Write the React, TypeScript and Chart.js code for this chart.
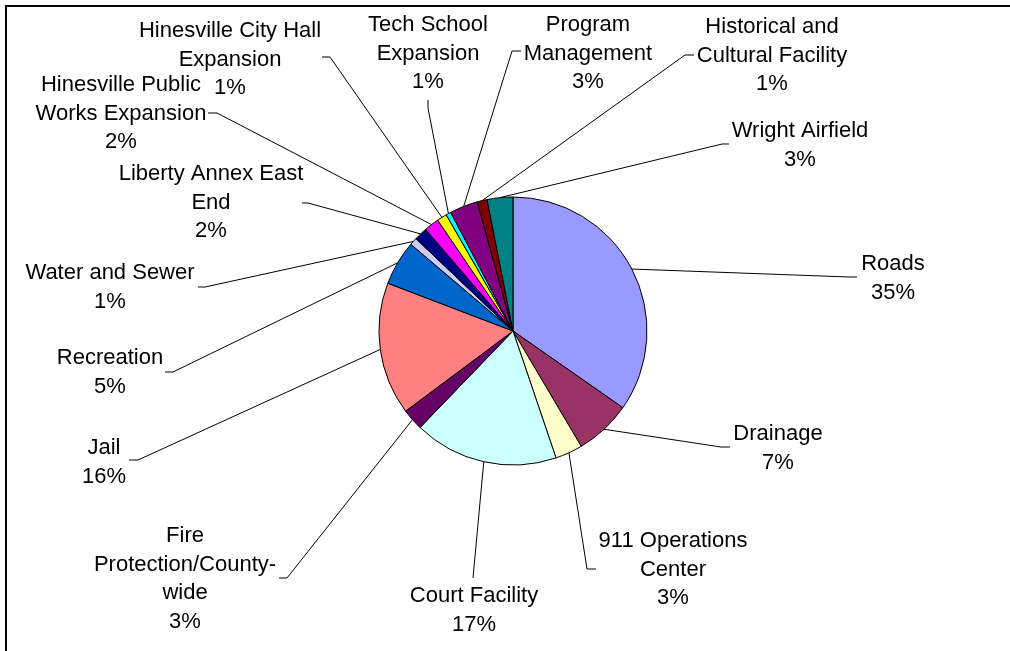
import React, { useEffect, useRef } from "react";
import { Chart, registerables } from "chart.js";

Chart.register(...registerables);

// ---- data ----
const CATEGORIES: string[] = [
  "Roads",
  "Drainage",
  "911 Operations\nCenter",
  "Court Facility",
  "Fire\nProtection/County-\nwide",
  "Jail",
  "Recreation",
  "Water and Sewer",
  "Liberty Annex East\nEnd",
  "Hinesville Public\nWorks Expansion",
  "Hinesville City Hall\nExpansion",
  "Tech School\nExpansion",
  "Program\nManagement",
  "Historical and\nCultural Facility",
  "Wright Airfield",
];

const VALUES: number[] = [34.7, 6.8, 3.3, 17.4, 2.6, 16.0, 5.4, 0.9, 1.6, 1.8, 1.2, 0.6, 3.4, 1.2, 3.1];

const COLORS: string[] = [
  "#9999FF",
  "#993366",
  "#FFFFCC",
  "#CCFFFF",
  "#660066",
  "#FF8080",
  "#0066CC",
  "#CCCCFF",
  "#000080",
  "#FF00FF",
  "#FFFF00",
  "#00FFFF",
  "#800080",
  "#800000",
  "#008080",
];

// ---- label layout (where each data label sits, and its leader line bend) ----
type LabelPos = { cx: number; y: number; elbow: [number, number]; end: [number, number] };
const LABEL_LAYOUT: LabelPos[] = [
  { cx: 893, y: 264, elbow: [849, 277], end: [857, 277] },
  { cx: 778, y: 434, elbow: [721, 447], end: [730, 447] },
  { cx: 673, y: 541, elbow: [587, 569], end: [596, 569] },
  { cx: 474, y: 596, elbow: [473, 578], end: [473, 578] },
  { cx: 185, y: 536, elbow: [287, 578], end: [279, 578] },
  { cx: 104, y: 448, elbow: [138, 460], end: [129, 460] },
  { cx: 110, y: 358, elbow: [173, 372], end: [165, 372] },
  { cx: 110, y: 273, elbow: [205, 287], end: [198, 287] },
  { cx: 211, y: 174, elbow: [308, 203], end: [302, 203] },
  { cx: 121, y: 85, elbow: [217, 113], end: [208, 113] },
  { cx: 230, y: 31, elbow: [330, 57], end: [322, 57] },
  { cx: 428, y: 25, elbow: [428, 108], end: [428, 100] },
  { cx: 588, y: 25, elbow: [512, 51], end: [521, 51] },
  { cx: 772, y: 27, elbow: [685, 55], end: [694, 55] },
  { cx: 800, y: 131, elbow: [722, 144], end: [729, 144] },
];

const LINE_HEIGHT = 28.5;
const FONT = '22px "Liberation Sans", Arial, sans-serif';

const labelPlugin = {
  id: "pieLabels",
  afterDraw(chart: any) {
    const ctx: CanvasRenderingContext2D = chart.ctx;
    const meta = chart.getDatasetMeta(0);
    const data: number[] = chart.data.datasets[0].data;
    const total = data.reduce((a, b) => a + b, 0);

    ctx.save();
    // frame
    ctx.strokeStyle = "#000";
    ctx.lineWidth = 2;
    ctx.beginPath();
    ctx.moveTo(6, 660);
    ctx.lineTo(6, 6);
    ctx.lineTo(1020, 6);
    ctx.stroke();

    meta.data.forEach((arc: any, i: number) => {
      const p = arc.getProps(["x", "y", "startAngle", "endAngle", "outerRadius"], true);
      const mid = (p.startAngle + p.endAngle) / 2;
      const ax = p.x + Math.cos(mid) * p.outerRadius;
      const ay = p.y + Math.sin(mid) * p.outerRadius;
      const lay = LABEL_LAYOUT[i];
      ctx.strokeStyle = "#000";
      ctx.lineWidth = 1;
      ctx.beginPath();
      ctx.moveTo(ax, ay);
      ctx.lineTo(lay.elbow[0], lay.elbow[1]);
      ctx.lineTo(lay.end[0], lay.end[1]);
      ctx.stroke();

      const pct = Math.round((data[i] / total) * 100) + "%";
      const lines = chart.data.labels[i].split("\n").concat([pct]);
      ctx.fillStyle = "#000";
      ctx.font = FONT;
      ctx.textAlign = "center";
      ctx.textBaseline = "middle";
      lines.forEach((t: string, k: number) => {
        ctx.fillText(t, lay.cx, lay.y + k * LINE_HEIGHT);
      });
    });
    ctx.restore();
  },
};

export default function App() {
  const ref = useRef<HTMLCanvasElement | null>(null);
  useEffect(() => {
    if (!ref.current) return;
    const chart = new Chart(ref.current, {
      type: "pie",
      data: {
        labels: CATEGORIES,
        datasets: [
          {
            data: VALUES,
            backgroundColor: COLORS,
            borderColor: "#000",
            borderWidth: 1,
            radius: 134,
          } as any,
        ],
      },
      options: {
        responsive: false,
        animation: false,
        radius: 134,
        layout: { padding: { left: 16, top: 11, right: 0, bottom: 0 } },
        plugins: {
          legend: { display: false },
          tooltip: { enabled: false },
          title: { display: false },
        },
      } as any,
      plugins: [labelPlugin],
    });
    return () => chart.destroy();
  }, []);
  return (
    <div style={{ position: "absolute", left: 0, top: 0, width: 1010, height: 651, background: "#fff" }}>
      <canvas ref={ref} width={1010} height={651} style={{ width: 1010, height: 651, display: "block" }} />
    </div>
  );
}
